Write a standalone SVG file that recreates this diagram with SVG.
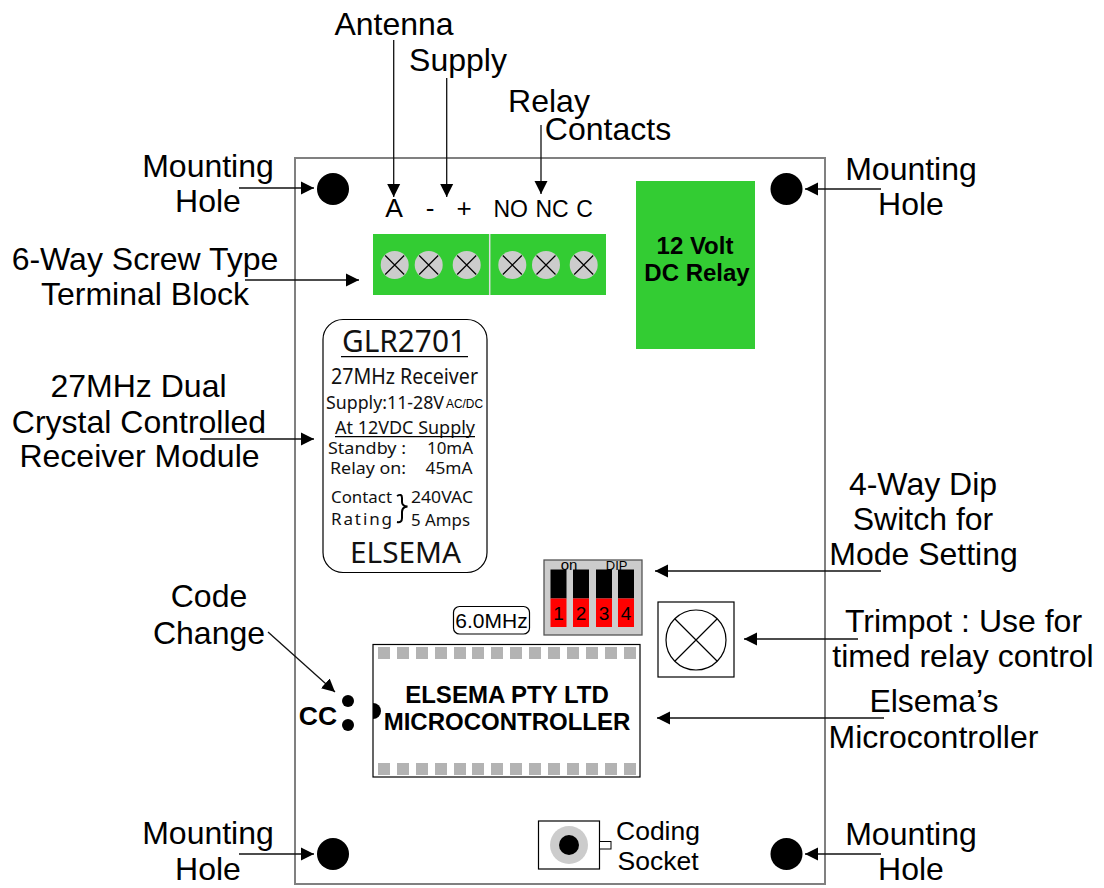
<svg xmlns="http://www.w3.org/2000/svg" width="1104" height="888" viewBox="0 0 1104 888">
<style>
text{font-family:"Liberation Sans",Arial,sans-serif;fill:#000}
.l{font-size:32px;text-anchor:middle}
.m{font-family:"Noto Sans","DejaVu Sans",sans-serif;font-weight:400;fill:#111}
.t{font-size:26.500px;text-anchor:middle}
.b{font-weight:bold;text-anchor:middle}
.c{stroke:#111;stroke-width:1.300;fill:none;marker-end:url(#a)}
.x{stroke:#000;stroke-width:1.200;fill:none}
.p{fill:#b3b3b3}
</style>
<defs>
<marker id="a" markerUnits="userSpaceOnUse" markerWidth="14" markerHeight="14" refX="13" refY="7" orient="auto"><path d="M0 .5L13 7L0 13.500Z" fill="#000"/></marker>
<g id="sc"><circle r="14" fill="#ccc"/><path d="M-9.500-9.500L9.500 9.500M-9.500 9.500L9.500-9.500" class="x"/></g>
</defs>
<rect width="1104" height="888" fill="#fff"/>
<g id="board"><rect x="295" y="158" width="530" height="726" fill="#fff" stroke="#808080" stroke-width="2"/></g>
<g id="holes">
<circle cx="333" cy="189" r="16"/><circle cx="786.500" cy="189" r="16"/><circle cx="333" cy="854" r="16"/><circle cx="786.500" cy="854" r="16"/>
</g>
<g id="terminal-block">
<rect x="373" y="234" width="233" height="61" fill="#33cc33"/>
<path d="M489.700 234V295" stroke="#ddd" stroke-width="1.500"/>
<use href="#sc" x="394.700" y="265"/><use href="#sc" x="428.700" y="265"/><use href="#sc" x="466.700" y="265"/><use href="#sc" x="512.300" y="265"/><use href="#sc" x="546" y="265"/><use href="#sc" x="583.700" y="265"/>
<text x="394" y="217" font-size="26.500" text-anchor="middle">A</text>
<text x="430" y="217" font-size="26" text-anchor="middle">-</text>
<text x="464" y="217" font-size="26" text-anchor="middle">+</text>
<text x="510.700" y="217" font-size="23" text-anchor="middle">NO</text>
<text x="552" y="217" font-size="23" text-anchor="middle">NC</text>
<text x="584.500" y="217" font-size="23" text-anchor="middle">C</text>
</g>
<g id="relay">
<rect x="636" y="181" width="119" height="168" fill="#33cc33"/>
<text class="b" x="695" y="254" font-size="24">12 Volt</text>
<text class="b" x="697" y="281" font-size="24">DC Relay</text>
</g>
<g id="module">
<rect x="323" y="319.500" width="164" height="253" rx="20" fill="#fff" stroke="#000" stroke-width="1.200"/>
<text class="m" x="342" y="352" font-size="30" textLength="124" lengthAdjust="spacingAndGlyphs">GLR2701</text>
<path d="M341 356.700H468" stroke="#000" stroke-width="1.300"/>
<text class="m" x="331" y="384" font-size="21" textLength="147" lengthAdjust="spacingAndGlyphs">27MHz Receiver</text>
<text class="m" x="326" y="408.500" font-size="18" textLength="118" lengthAdjust="spacingAndGlyphs">Supply:11-28V</text>
<text x="446" y="408" font-size="12" textLength="37" lengthAdjust="spacingAndGlyphs">AC/DC</text>
<text class="m" x="335" y="434" font-size="17.500" textLength="140" lengthAdjust="spacingAndGlyphs">At 12VDC Supply</text>
<path d="M335 436.700H475" stroke="#000" stroke-width="1.300"/>
<text class="m" x="328" y="454" font-size="17" textLength="78" lengthAdjust="spacingAndGlyphs">Standby :</text>
<text class="m" x="427" y="454" font-size="17" textLength="46" lengthAdjust="spacingAndGlyphs">10mA</text>
<text class="m" x="330" y="474" font-size="17" textLength="76" lengthAdjust="spacingAndGlyphs">Relay on:</text>
<text class="m" x="425.500" y="474" font-size="17" textLength="47" lengthAdjust="spacingAndGlyphs">45mA</text>
<text class="m" x="331" y="503" font-size="17" textLength="61" lengthAdjust="spacingAndGlyphs">Contact</text>
<text class="m" x="331" y="525" font-size="17" textLength="61" lengthAdjust="spacing">Rating</text>
<path d="M397 496Q402 493 402 498V502Q402 506 407.500 506.500Q402 507 402 512V518Q402 523 397 522" fill="none" stroke="#000" stroke-width="2"/>
<text class="m" x="411" y="503" font-size="17" textLength="62" lengthAdjust="spacingAndGlyphs">240VAC</text>
<text class="m" x="411" y="526" font-size="17" textLength="59" lengthAdjust="spacingAndGlyphs">5 Amps</text>
<text class="m" x="350" y="563" font-size="29" textLength="111" lengthAdjust="spacingAndGlyphs">ELSEMA</text>
</g>
<g id="dip-switch">
<rect x="544" y="560" width="98" height="75" fill="#ccc" stroke="#555" stroke-width="1.300"/>
<text x="569" y="570" font-size="15" text-anchor="middle">on</text>
<text x="616.700" y="570" font-size="13" text-anchor="middle">DIP</text>
<rect x="550.500" y="569.500" width="16" height="29"/><rect x="573" y="569.500" width="16" height="29"/><rect x="596" y="569.500" width="16" height="29"/><rect x="618" y="569.500" width="16" height="29"/>
<rect x="550.500" y="598.500" width="16" height="28.500" fill="#f00"/><rect x="573" y="598.500" width="16" height="28.500" fill="#f00"/><rect x="596" y="598.500" width="16" height="28.500" fill="#f00"/><rect x="618" y="598.500" width="16" height="28.500" fill="#f00"/>
<text x="558.500" y="620" font-size="19" text-anchor="middle">1</text><text x="581" y="620" font-size="19" text-anchor="middle">2</text><text x="604" y="620" font-size="19" text-anchor="middle">3</text><text x="626" y="620" font-size="19" text-anchor="middle">4</text>
</g>
<g id="crystal">
<rect x="453.500" y="606.500" width="76" height="27.500" rx="6" fill="#fff" stroke="#000" stroke-width="1.200"/>
<text x="491.500" y="628" font-size="21" text-anchor="middle">6.0MHz</text>
</g>
<g id="trimpot">
<rect x="658" y="602" width="76" height="75" fill="#fff" stroke="#000" stroke-width="1.200"/>
<circle cx="696" cy="640" r="30" class="x"/>
<path d="M675 619L717 661M675 661L717 619" class="x"/>
</g>
<g id="microcontroller">
<rect x="373" y="644.500" width="267" height="132.500" fill="#fff" stroke="#000" stroke-width="1.200"/>
<path class="p" d="M378 647h12v12h-12zM397 647h12v12h-12zM416 647h12v12h-12zM435 647h12v12h-12zM454 647h12v12h-12zM472 647h12v12h-12zM491 647h12v12h-12zM510 647h12v12h-12zM529 647h12v12h-12zM548 647h12v12h-12zM567 647h12v12h-12zM586 647h12v12h-12zM605 647h12v12h-12zM624 647h12v12h-12z"/>
<path class="p" d="M378 763h12v12h-12zM397 763h12v12h-12zM416 763h12v12h-12zM435 763h12v12h-12zM454 763h12v12h-12zM472 763h12v12h-12zM491 763h12v12h-12zM510 763h12v12h-12zM529 763h12v12h-12zM548 763h12v12h-12zM567 763h12v12h-12zM586 763h12v12h-12zM605 763h12v12h-12zM624 763h12v12h-12z"/>
<path d="M373 703A8 8 0 0 1 373 719Z"/>
<text class="b" x="507" y="703" font-size="24">ELSEMA PTY LTD</text>
<text class="b" x="507" y="730" font-size="24">MICROCONTROLLER</text>
</g>
<g id="code-change">
<circle cx="348" cy="701" r="6"/><circle cx="348" cy="725" r="6"/>
<text x="318" y="725" font-size="26.500" font-weight="bold" text-anchor="middle">CC</text>
</g>
<g id="coding-socket">
<rect x="538.500" y="821" width="61" height="48" fill="#fff" stroke="#000" stroke-width="1.200"/>
<circle cx="569" cy="845" r="19" fill="#ccc"/><circle cx="569" cy="845" r="10"/>
<rect x="599.500" y="841.500" width="11.500" height="7.500" fill="#fff" stroke="#000" stroke-width="1"/>
<text x="658" y="840" class="t">Coding</text><text x="658" y="870" class="t">Socket</text>
</g>
<g id="connectors">
<path class="c" d="M393.700 40V197"/>
<path class="c" d="M446.700 78V197"/>
<path class="c" d="M541 125V194"/>
<path class="c" d="M239 188H314"/>
<path class="c" d="M881 189H805"/>
<path class="c" d="M239 854H314"/>
<path class="c" d="M881 854H805"/>
<path class="c" d="M245 280H359"/>
<path class="c" d="M200 439H314"/>
<path class="c" d="M881 571H655"/>
<path class="c" d="M858 639H744"/>
<path class="c" d="M884 718H657"/>
<path class="c" d="M268 632L335 692"/>
</g>
<g id="labels">
<text class="l" x="394" y="35">Antenna</text>
<text class="l" x="458" y="71">Supply</text>
<text class="l" x="549" y="112">Relay</text>
<text class="l" x="608" y="140">Contacts</text>
<text class="l" x="208" y="176.500">Mounting</text><text class="l" x="208" y="211.500">Hole</text>
<text class="l" x="911" y="180">Mounting</text><text class="l" x="911" y="215">Hole</text>
<text class="l" x="145" y="270">6-Way Screw Type</text><text class="l" x="145" y="305">Terminal Block</text>
<text class="l" x="138.500" y="397">27MHz Dual</text><text class="l" x="139" y="433">Crystal Controlled</text><text class="l" x="139.500" y="467">Receiver Module</text>
<text class="l" x="923" y="495">4-Way Dip</text><text class="l" x="923" y="530">Switch for</text><text class="l" x="923.500" y="565">Mode Setting</text>
<text class="l" x="209" y="607">Code</text><text class="l" x="209" y="644">Change</text>
<text class="l" x="963.500" y="632">Trimpot : Use for</text><text class="l" x="963" y="667">timed relay control</text>
<text class="l" x="934" y="712">Elsema’s</text><text class="l" x="933.500" y="748">Microcontroller</text>
<text class="l" x="208" y="844">Mounting</text><text class="l" x="208" y="879.500">Hole</text>
<text class="l" x="911" y="845">Mounting</text><text class="l" x="911" y="880">Hole</text>
</g>
</svg>
